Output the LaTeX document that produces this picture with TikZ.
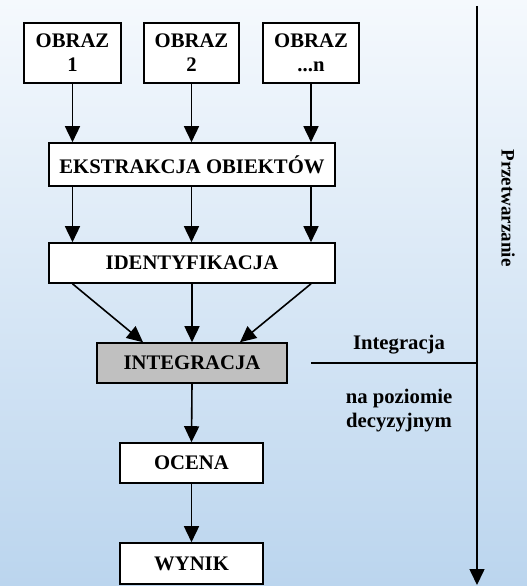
\documentclass[tikz,border=0pt]{standalone}
\usepackage{fontspec}
\setmainfont{Liberation Serif}
\usetikzlibrary{arrows.meta}
\definecolor{bgtop}{HTML}{F5F9FD}
\definecolor{bgbot}{HTML}{BBD5EE}
\definecolor{szary}{HTML}{C0C0C0}

\begin{document}
\begin{tikzpicture}[x=1pt,y=-1pt]
\tikzstyle{blok}=[draw,fill=white,line width=1.6pt,inner sep=0pt,align=center,font=\fontsize{20.7}{24}\selectfont\bfseries]
\tikzstyle{napis}=[inner sep=0pt,align=center,font=\fontsize{20.7}{24}\selectfont\bfseries]
\tikzstyle{edge}=[draw,line width=1.6pt,-{Triangle[width=15pt,length=16pt]}]
    \shade[top color=bgtop,bottom color=bgbot] (0,0) rectangle (527,586);
    \useasboundingbox (0,0) rectangle (527,586);
    \node[blok,minimum width=97,minimum height=60] (o1) at (72.5,53) {OBRAZ\\1};
    \node[blok,minimum width=95,minimum height=60] (o2) at (191.5,53) {OBRAZ\\2};
    \node[blok,minimum width=96,minimum height=60] (on) at (311,53) {OBRAZ\\...n};
    \node[blok,minimum width=286,minimum height=43] (ekst) at (192,164.5) {EKSTRAKCJA OBIEKTÓW};
    \node[blok,minimum width=286,minimum height=40] (ident) at (192,263) {IDENTYFIKACJA};
    \node[blok,fill=szary,minimum width=190,minimum height=40] (integ) at (192,363) {INTEGRACJA};
    \node[blok,minimum width=143,minimum height=40] (ocena) at (191.5,463) {OCENA};
    \node[blok,minimum width=143,minimum height=41] (wynik) at (191.5,563.5) {WYNIK};
    \coordinate (gora) at (477,6);
    \coordinate (dol) at (477,585);
    \coordinate (lewy) at (311,363);
    \coordinate (prawy) at (477,363);
    \node[napis,rotate=-90,font=\fontsize{19}{22}\selectfont\bfseries] (przetw) at (508,208) {Przetwarzanie};
    \node[napis] (integr) at (399,345) {Integracja};
    \node[napis] (poziom) at (399,411) {na poziomie\\decyzyjnym};
    \path (o1.south) edge [edge] (o1.south |- ekst.north);
    \path (o2.south) edge [edge] (o2.south |- ekst.north);
    \path (on.south) edge [edge] (on.south |- ekst.north);
    \path (ekst.south -| o1) edge [edge] (o1 |- ident.north);
    \path (ekst.south -| o2) edge [edge] (o2 |- ident.north);
    \path (ekst.south -| on) edge [edge] (on |- ident.north);
    \path (ident.south -| o1) edge [edge] ([xshift=-49pt]integ.north);
    \path (ident.south) edge [edge] (integ.north);
    \path (ident.south -| on) edge [edge] ([xshift=48pt]integ.north);
    \path (integ.south) edge [edge] (ocena.north);
    \path (ocena.south) edge [edge] (wynik.north);
    \path (gora) edge [edge] (dol);
    \draw[line width=1.6pt] (lewy) -- (prawy);
\end{tikzpicture}
\end{document}
